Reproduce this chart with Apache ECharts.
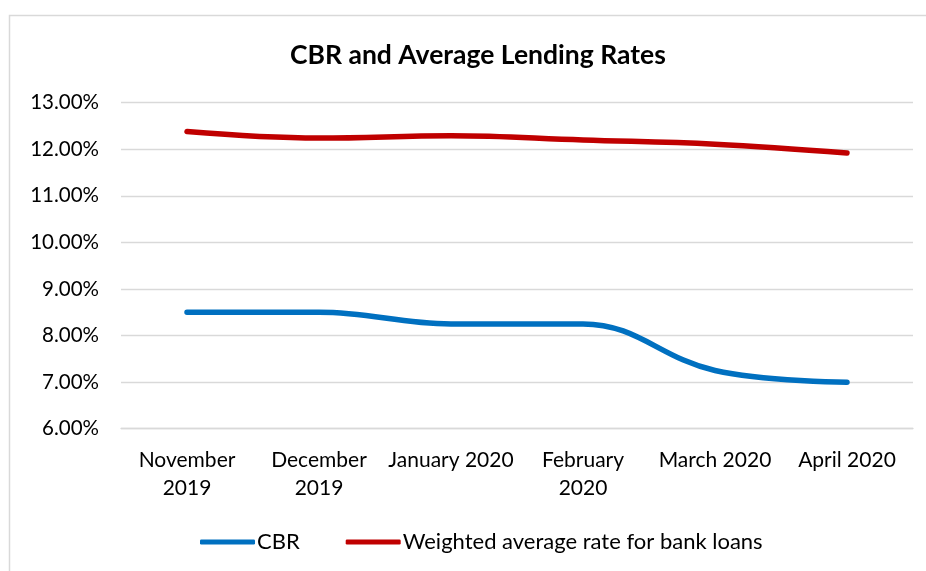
<!DOCTYPE html>
<html>
<head>
<meta charset="utf-8">
<script src="https://cdn.jsdelivr.net/npm/echarts@6/dist/echarts.min.js"></script>
<style>
  html, body { margin: 0; padding: 0; background: #fff; }
  #chart { width: 926px; height: 571px; }
</style>
</head>
<body>
<div id="chart"></div>
<script>
// Monthly categories (line break where the axis wraps the label)
const months = ['November\n2019', 'December\n2019', 'January 2020', 'February\n2020', 'March 2020', 'April 2020'];
// Central Bank Rate, %
const cbr = [8.50, 8.50, 8.25, 8.25, 7.25, 7.00];
// Weighted average lending rate for bank loans, %
const lendingRate = [12.38, 12.24, 12.29, 12.20, 12.11, 11.92];
// Value axis range
const yMin = 6;
const yMax = 13;
const yStep = 1;

const FONT = 'Lato';
const chart = echarts.init(document.getElementById('chart'));

chart.setOption({
  animation: false,
  backgroundColor: '#ffffff',
  textStyle: { fontFamily: FONT },
  graphic: [{
    type: 'rect',
    shape: { x: 9.5, y: 15.5, width: 1000, height: 700 },
    style: { fill: 'none', stroke: '#d9d9d9', lineWidth: 1.5 },
    silent: true
  }],
  title: {
    text: 'CBR and Average Lending Rates',
    left: 285,
    top: 37,
    textStyle: { fontFamily: FONT, fontWeight: 'bold', fontSize: 26.5, color: '#000000' }
  },
  grid: { left: 121, right: 13, top: 102.7, bottom: 142.3, containLabel: false },
  legend: {
    bottom: 13,
    left: 195,
    itemWidth: 55,
    itemHeight: 5,
    itemGap: 46,
    icon: 'roundRect',
    textStyle: { fontFamily: FONT, fontSize: 22, color: '#000000', padding: [0, 0, 0, -3] },
    data: ['CBR', 'Weighted average rate for bank loans']
  },
  xAxis: {
    type: 'category',
    data: months,
    boundaryGap: true,
    axisLine: { show: true, lineStyle: { color: '#d9d9d9', width: 1.3 } },
    axisTick: { show: false },
    axisLabel: {
      fontFamily: FONT, fontSize: 21, color: '#000000',
      margin: 18, lineHeight: 28, interval: 0
    }
  },
  yAxis: {
    type: 'value',
    min: yMin,
    max: yMax,
    interval: yStep,
    axisLine: { show: false },
    axisTick: { show: false },
    splitLine: { lineStyle: { color: '#d9d9d9', width: 1.3 } },
    axisLabel: {
      fontFamily: FONT, fontSize: 20.5, color: '#000000', margin: 22,
      formatter: v => v.toFixed(2) + '%'
    }
  },
  series: [
    {
      name: 'CBR',
      type: 'line',
      data: cbr,
      smooth: 0.4,
      showSymbol: false,
      symbol: 'none',
      color: '#0070C0',
      lineStyle: { width: 5.5, color: '#0070C0', cap: 'round' }
    },
    {
      name: 'Weighted average rate for bank loans',
      type: 'line',
      data: lendingRate,
      smooth: 0.4,
      showSymbol: false,
      symbol: 'none',
      color: '#C00000',
      lineStyle: { width: 5.5, color: '#C00000', cap: 'round' }
    }
  ]
});
</script>
</body>
</html>
